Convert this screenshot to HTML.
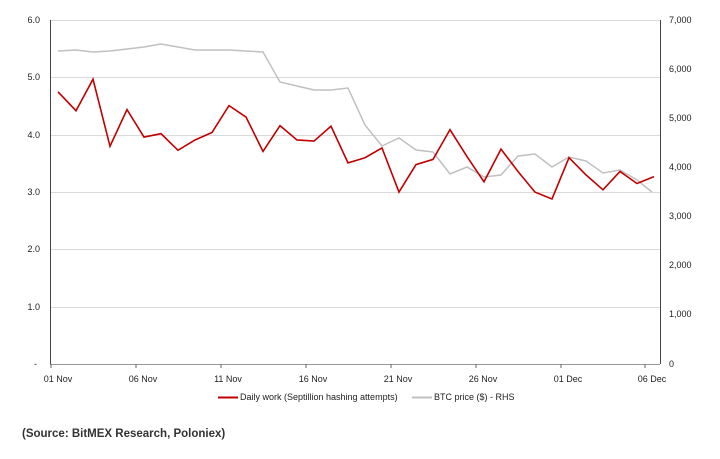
<!DOCTYPE html>
<html><head><meta charset="utf-8"><style>
body{margin:0;background:#fff;width:720px;height:454px;overflow:hidden}
text{font-family:"Liberation Sans",sans-serif;font-size:9px;fill:#222}
</style></head><body>
<svg width="720" height="454" xmlns="http://www.w3.org/2000/svg">
<g stroke="#d9d9d9" stroke-width="1">
<line x1="50" x2="660" y1="20.5" y2="20.5"/>
<line x1="50" x2="660" y1="77.5" y2="77.5"/>
<line x1="50" x2="660" y1="135.5" y2="135.5"/>
<line x1="50" x2="660" y1="192.5" y2="192.5"/>
<line x1="50" x2="660" y1="249.5" y2="249.5"/>
<line x1="50" x2="660" y1="307.5" y2="307.5"/>
</g>
<line x1="50.5" x2="50.5" y1="20" y2="364" stroke="#444"/>
<line x1="660.5" x2="660.5" y1="20" y2="364" stroke="#444"/>
<line x1="50" x2="660" y1="364.5" y2="364.5" stroke="#999"/>
<g stroke="#666">
<line x1="51" x2="51" y1="364" y2="368"/><line x1="136" x2="136" y1="364" y2="368"/><line x1="221" x2="221" y1="364" y2="368"/><line x1="306" x2="306" y1="364" y2="368"/><line x1="391" x2="391" y1="364" y2="368"/><line x1="476" x2="476" y1="364" y2="368"/><line x1="561" x2="561" y1="364" y2="368"/><line x1="645" x2="645" y1="364" y2="368"/>
</g>
<g text-anchor="end">
<text x="40" y="23">6.0</text><text x="40" y="80">5.0</text><text x="40" y="138">4.0</text><text x="40" y="195">3.0</text><text x="40" y="252">2.0</text><text x="40" y="310">1.0</text><text x="37" y="367">-</text>
</g>
<g>
<text x="669" y="23">7,000</text><text x="669" y="72">6,000</text><text x="669" y="121">5,000</text><text x="669" y="170">4,000</text><text x="669" y="219">3,000</text><text x="669" y="268">2,000</text><text x="669" y="317">1,000</text><text x="669" y="367">0</text>
</g>
<g text-anchor="middle">
<text x="58" y="382">01 Nov</text><text x="143" y="382">06 Nov</text><text x="228" y="382">11 Nov</text><text x="313" y="382">16 Nov</text><text x="398" y="382">21 Nov</text><text x="483" y="382">26 Nov</text><text x="568" y="382">01 Dec</text><text x="652" y="382">06 Dec</text>
</g>
<polyline fill="none" stroke="#c0c0c0" stroke-width="1.5" points="58,51 76,50 93,52 110,51 127,49 144,47 161,44 178,47 195,50 212,50 229,50 246,51 263,52 280,82 297,86 314,90 331,90 348,88 365,125 382,146 399,138 416,150 433,152 450,174 467,167 484,177 501,175 518,156 535,154 552,167 569,157 586,161 603,173 620,170 637,180 652,192"/>
<g transform="translate(0,364) scale(1,-57.3)">
<polyline fill="none" stroke="#c00000" stroke-width="1.6" vector-effect="non-scaling-stroke" points="58,4.75 76,4.42 93,4.97 110,3.8 127,4.44 144,3.96 161,4.02 178,3.73 195,3.91 212,4.04 229,4.51 246,4.31 263,3.71 280,4.16 297,3.91 314,3.89 331,4.15 348,3.51 365,3.6 382,3.77 399,3.0 416,3.48 433,3.57 450,4.09 467,3.62 484,3.18 501,3.75 518,3.36 535,3.0 552,2.88 569,3.6 586,3.3 603,3.04 620,3.36 637,3.15 654,3.27"/>
</g>
<line x1="218" x2="238" y1="397.5" y2="397.5" stroke="#c00000" stroke-width="2"/>
<text x="240" y="400">Daily work (Septillion hashing attempts)</text>
<line x1="412" x2="432" y1="397.5" y2="397.5" stroke="#c0c0c0" stroke-width="2"/>
<text x="434" y="400">BTC price ($) - RHS</text>
<text x="22" y="437" style="font-size:11.5px;font-weight:bold;fill:#333">(Source: BitMEX Research, Poloniex)</text>
</svg>
</body></html>
